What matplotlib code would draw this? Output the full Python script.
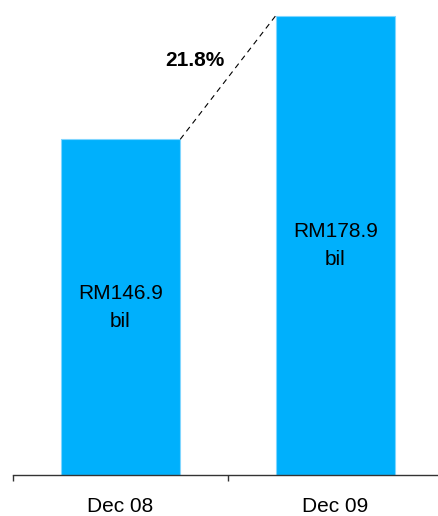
import numpy as np
from matplotlib import pyplot as plt

plt.rcParams['font.family'] = ['Liberation Sans', 'DejaVu Sans']

categories = ["Dec 08", "Dec 09"]
values = [146.9, 178.9]          # RM billion
growth = "21.8%"

base = 60.0          # value axis starts here, not at zero
barWidth = 0.556
barColor = "#00B0FC"

fig = plt.figure(figsize=(4.39, 5.16), dpi=100)
ax = fig.add_axes([13 / 439, 41 / 516, 430 / 439, 463.6 / 516])

x = np.arange(len(categories))
ax.bar(x, np.array(values) - base, bottom=base, width=barWidth,
       color=barColor, edgecolor="#80D6FF", linewidth=0.8)

# value labels, centred inside each bar
for xi, v in zip(x, values):
    ax.text(xi, (base + v) / 2, "RM{0}\nbil".format(v), ha="center", va="center",
            fontsize=15, linespacing=1.6, color="black")

# dashed growth line from top of first bar to top of second
x0 = x[0] + barWidth / 2
x1 = x[1] - barWidth / 2
ax.plot([x0, x1], [values[0], values[1]], color="black", linestyle=(0, (5, 4)), linewidth=0.8)
ax.text(0.347, 167.4, growth, ha="center", va="center", fontsize=15, fontweight="bold")

ax.set_xlim(-0.5, 1.5)
ax.set_ylim(base, 180)

for s in ["left", "top", "right"]:
    ax.spines[s].set_visible(False)
ax.spines["bottom"].set_color("#333333")
ax.spines["bottom"].set_linewidth(1)

ax.set_yticks([])
ax.set_xticks([-0.5, 0.5, 1.5])
ax.set_xticklabels([])
ax.tick_params(axis="x", which="major", direction="out", length=4, width=1, color="#333333")
ax.set_xticks(x, minor=True)
ax.set_xticklabels(categories, minor=True, fontsize=15)
ax.tick_params(axis="x", which="minor", length=0, pad=16)

fig.savefig("out.png", dpi=100)
